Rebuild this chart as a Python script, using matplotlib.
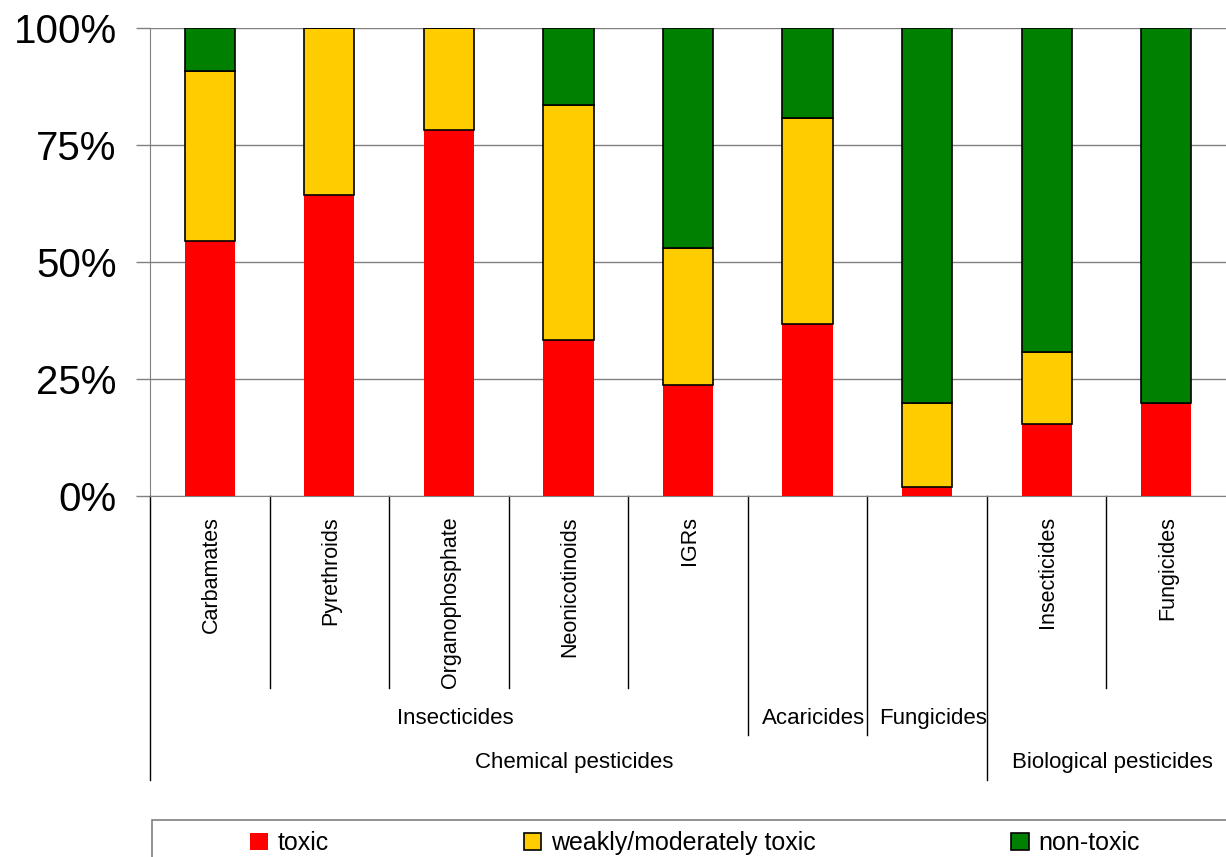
import numpy as np
import matplotlib
matplotlib.use("Agg")
import matplotlib.pyplot as plt
import matplotlib.patches as mpatches
from matplotlib.transforms import blended_transform_factory

plt.rcParams['font.family'] = ['Liberation Sans', 'DejaVu Sans']

# data (percent of products per class)
categories = ["Carbamates", "Pyrethroids", "Organophosphate", "Neonicotinoids", "IGRs",
              "", "", "Insecticides", "Fungicides"]
toxic = [54.5, 64.3, 78.2, 33.3, 23.7, 36.8, 1.9, 15.4, 19.9]
weakly = [36.3, 35.7, 21.8, 50.2, 29.3, 44.0, 18.0, 15.4, 0.0]
non_toxic = [9.2, 0.0, 0.0, 16.5, 47.0, 19.2, 80.1, 69.2, 80.1]

# second and third label levels: (label, first index, last index)
groups_mid = [("Insecticides", 0, 4), ("Acaricides", 5, 5), ("Fungicides", 6, 6)]
groups_top = [("Chemical pesticides", 0, 6), ("Biological pesticides", 7, 8)]

series_names = ["toxic", "weakly/moderately toxic", "non-toxic"]
colors = ["#ff0000", "#ffcc00", "#008000"]

W, H = 1226, 857
fig = plt.figure(figsize=(W / 100, H / 100), dpi=100)
ax = fig.add_axes([150 / W, 1 - 496 / H, 1 - 150 / W, 468 / H])

x = np.arange(len(categories))
bw = 0.42
ax.bar(x, toxic, bw, color=colors[0], linewidth=0, zorder=3)
ax.bar(x, weakly, bw, bottom=toxic, color=colors[1], edgecolor="black", linewidth=1.2, zorder=3)
ax.bar(x, non_toxic, bw, bottom=np.array(toxic) + np.array(weakly),
       color=colors[2], edgecolor="black", linewidth=1.2, zorder=3)

ax.set_xlim(-0.5, len(categories) - 0.5)
ax.set_ylim(0, 100)
ax.set_yticks([0, 25, 50, 75, 100])
ax.set_yticklabels(["0%", "25%", "50%", "75%", "100%"], fontsize=29)
ax.yaxis.grid(True, color="#808080", linewidth=1, zorder=0)
ax.tick_params(axis="y", colors="#808080", length=10, width=1, pad=14, labelcolor="black")
ax.set_xticks([])
for s in ["top", "right"]:
    ax.spines[s].set_visible(False)
ax.spines["left"].set_color("#808080")
ax.spines["bottom"].set_color("#808080")

# hierarchical category axis
tr = blended_transform_factory(ax.transData, ax.transAxes)
line_depth = {-0.5: -0.607, 0.5: -0.410, 1.5: -0.410, 2.5: -0.410, 3.5: -0.410,
              4.5: -0.511, 5.5: -0.511, 6.5: -0.607, 7.5: -0.410}
for bx, by in line_depth.items():
    ax.plot([bx, bx], [0, by], color="black", lw=1, transform=tr, clip_on=False)

for i, lab in enumerate(categories):
    if lab:
        ax.text(i + 0.01, -0.043, lab, rotation=90, ha="center", va="top", fontsize=15.5,
                transform=tr, clip_on=False)
for lab, a, b in groups_mid:
    ax.text((a + b) / 2 + 0.05, -0.476, lab, ha="center", va="center", fontsize=16, transform=tr)
for lab, a, b in groups_top:
    ax.text((a + b) / 2 + 0.05, -0.570, lab, ha="center", va="center", fontsize=16, transform=tr)

# legend
handles = [mpatches.Patch(facecolor=colors[0], edgecolor="none"),
           mpatches.Patch(facecolor=colors[1], edgecolor="black", linewidth=1.2),
           mpatches.Patch(facecolor=colors[2], edgecolor="black", linewidth=1.2)]
fig.legend(handles, series_names, loc="center left", bbox_to_anchor=(250 / W, 1 - 843 / H),
           ncol=3, frameon=False, fontsize=18, handlelength=0.7, handleheight=0.7,
           handletextpad=0.4, columnspacing=7.8, borderaxespad=0, borderpad=0)
fig.patches.append(mpatches.Rectangle((152 / W, -0.05), 1.0, 1 - 820 / H + 0.05,
                                      transform=fig.transFigure, facecolor="none",
                                      edgecolor="#808080", linewidth=1.2))

fig.savefig("out.png", dpi=100)
